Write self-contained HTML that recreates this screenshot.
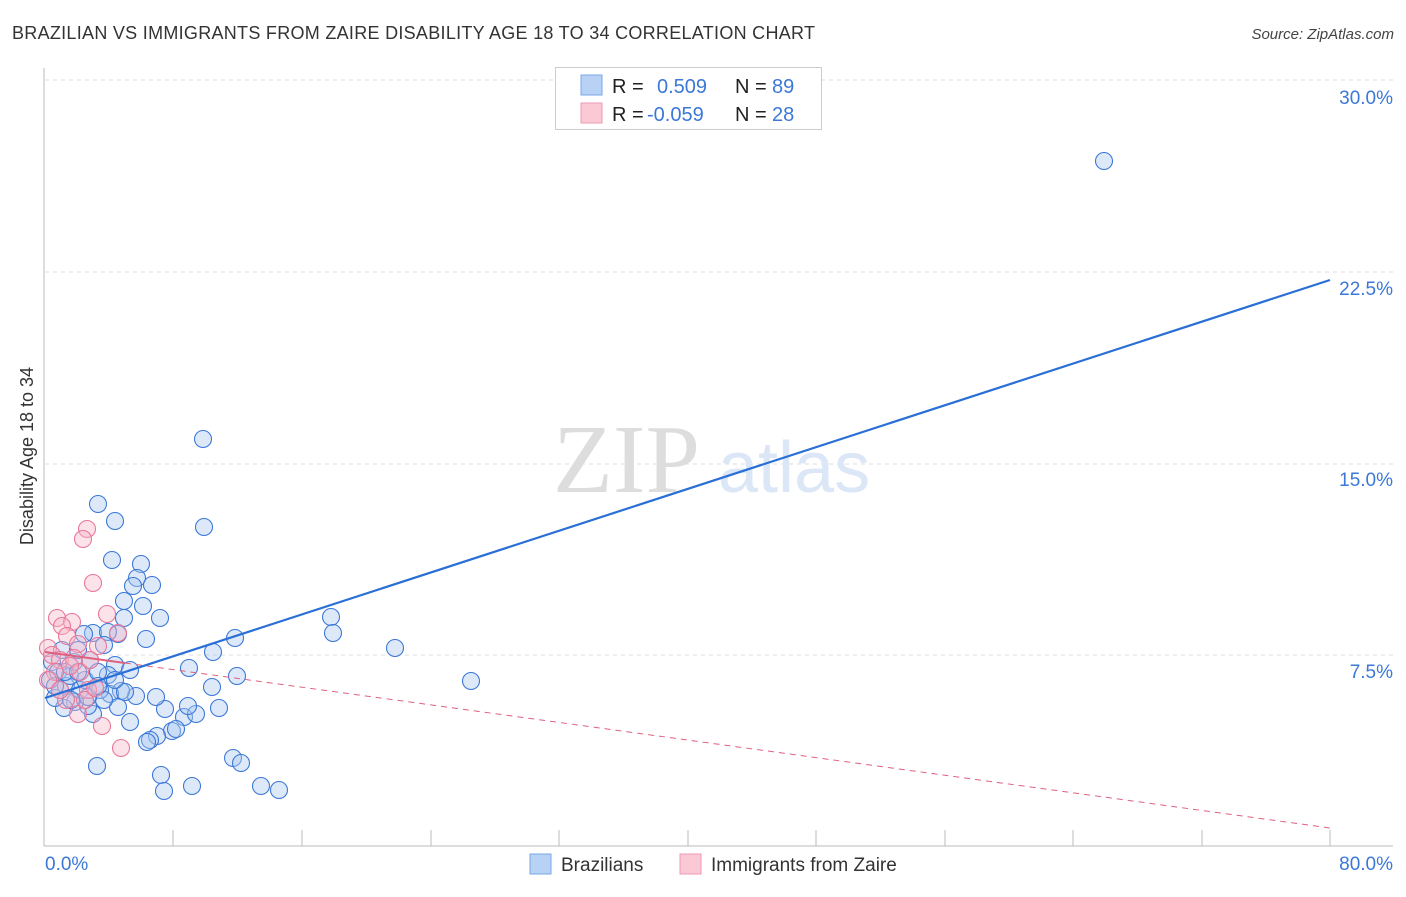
<!DOCTYPE html>
<html><head><meta charset="utf-8"><style>
body{margin:0;background:#fff;font-family:"Liberation Sans",sans-serif;}
</style></head><body>
<svg width="1406" height="892" xmlns="http://www.w3.org/2000/svg" font-family="Liberation Sans, sans-serif">
<text x="12" y="39" font-size="18" fill="#333" textLength="803">BRAZILIAN VS IMMIGRANTS FROM ZAIRE DISABILITY AGE 18 TO 34 CORRELATION CHART</text>
<text x="1394" y="39" font-size="15" fill="#444" font-style="italic" text-anchor="end">Source: ZipAtlas.com</text>
<g stroke="#ddd" stroke-dasharray="4,4" stroke-width="1">
<line x1="45" y1="80" x2="1393" y2="80"/><line x1="45" y1="272" x2="1393" y2="272"/>
<line x1="45" y1="464" x2="1393" y2="464"/><line x1="45" y1="655" x2="1393" y2="655"/>
</g>
<line x1="44" y1="68" x2="44" y2="846" stroke="#bbb"/>
<line x1="44" y1="846" x2="1393" y2="846" stroke="#bbb"/>
<g stroke="#bbb"><line x1="173" y1="830" x2="173" y2="846"/><line x1="302" y1="830" x2="302" y2="846"/><line x1="431" y1="830" x2="431" y2="846"/><line x1="559" y1="830" x2="559" y2="846"/><line x1="688" y1="830" x2="688" y2="846"/><line x1="816" y1="830" x2="816" y2="846"/><line x1="945" y1="830" x2="945" y2="846"/><line x1="1073" y1="830" x2="1073" y2="846"/><line x1="1202" y1="830" x2="1202" y2="846"/><line x1="1330" y1="830" x2="1330" y2="846"/></g>
<g font-size="19" fill="#3b78d8" text-anchor="end">
<text x="1393" y="104">30.0%</text><text x="1393" y="295">22.5%</text><text x="1393" y="486">15.0%</text><text x="1393" y="678">7.5%</text>
<text x="1393" y="870">80.0%</text></g>
<text x="45" y="870" font-size="19" fill="#3b78d8">0.0%</text>
<text transform="translate(33,456) rotate(-90)" font-size="18" fill="#333" text-anchor="middle">Disability Age 18 to 34</text>
<text x="553" y="492" font-size="98" fill="#ddd" font-family="Liberation Serif, serif">ZIP</text>
<text x="718" y="492" font-size="72" fill="#dbe7f7">atlas</text>
<g fill="#a9c8f0" fill-opacity="0.4" stroke="#3b78d8" stroke-width="1.1">
<circle cx="1104" cy="161" r="8.5"/><circle cx="203" cy="439" r="8.5"/><circle cx="98" cy="504" r="8.5"/><circle cx="204" cy="527" r="8.5"/><circle cx="115" cy="521" r="8.5"/><circle cx="112" cy="560" r="8.5"/><circle cx="141" cy="564" r="8.5"/><circle cx="137" cy="578" r="8.5"/><circle cx="133" cy="586" r="8.5"/><circle cx="152" cy="585" r="8.5"/><circle cx="124" cy="601" r="8.5"/><circle cx="143" cy="606" r="8.5"/><circle cx="160" cy="618" r="8.5"/><circle cx="124" cy="618" r="8.5"/><circle cx="331" cy="617" r="8.5"/><circle cx="333" cy="633" r="8.5"/><circle cx="395" cy="648" r="8.5"/><circle cx="471" cy="681" r="8.5"/><circle cx="235" cy="638" r="8.5"/><circle cx="146" cy="639" r="8.5"/><circle cx="118" cy="634" r="8.5"/><circle cx="93" cy="633" r="8.5"/><circle cx="84" cy="634" r="8.5"/><circle cx="108" cy="632" r="8.5"/><circle cx="104" cy="645" r="8.5"/><circle cx="115" cy="665" r="8.5"/><circle cx="90" cy="660" r="8.5"/><circle cx="213" cy="652" r="8.5"/><circle cx="189" cy="668" r="8.5"/><circle cx="237" cy="676" r="8.5"/><circle cx="212" cy="687" r="8.5"/><circle cx="219" cy="708" r="8.5"/><circle cx="184" cy="717" r="8.5"/><circle cx="196" cy="714" r="8.5"/><circle cx="188" cy="706" r="8.5"/><circle cx="165" cy="709" r="8.5"/><circle cx="156" cy="697" r="8.5"/><circle cx="136" cy="696" r="8.5"/><circle cx="121" cy="691" r="8.5"/><circle cx="110" cy="694" r="8.5"/><circle cx="100" cy="690" r="8.5"/><circle cx="130" cy="722" r="8.5"/><circle cx="118" cy="707" r="8.5"/><circle cx="172" cy="731" r="8.5"/><circle cx="157" cy="736" r="8.5"/><circle cx="150" cy="740" r="8.5"/><circle cx="147" cy="742" r="8.5"/><circle cx="176" cy="729" r="8.5"/><circle cx="233" cy="758" r="8.5"/><circle cx="241" cy="763" r="8.5"/><circle cx="161" cy="775" r="8.5"/><circle cx="164" cy="791" r="8.5"/><circle cx="192" cy="786" r="8.5"/><circle cx="261" cy="786" r="8.5"/><circle cx="279" cy="790" r="8.5"/><circle cx="97" cy="766" r="8.5"/><circle cx="93" cy="714" r="8.5"/><circle cx="88" cy="706" r="8.5"/><circle cx="75" cy="702" r="8.5"/><circle cx="64" cy="708" r="8.5"/><circle cx="60" cy="690" r="8.5"/><circle cx="55" cy="698" r="8.5"/><circle cx="50" cy="680" r="8.5"/><circle cx="52" cy="662" r="8.5"/><circle cx="58" cy="672" r="8.5"/><circle cx="66" cy="686" r="8.5"/><circle cx="70" cy="676" r="8.5"/><circle cx="80" cy="690" r="8.5"/><circle cx="85" cy="680" r="8.5"/><circle cx="74" cy="662" r="8.5"/><circle cx="62" cy="650" r="8.5"/><circle cx="104" cy="700" r="8.5"/><circle cx="108" cy="675" r="8.5"/><circle cx="98" cy="672" r="8.5"/><circle cx="125" cy="692" r="8.5"/><circle cx="78" cy="650" r="8.5"/><circle cx="88" cy="697" r="8.5"/><circle cx="71" cy="700" r="8.5"/><circle cx="55" cy="686" r="8.5"/><circle cx="65" cy="672" r="8.5"/><circle cx="78" cy="672" r="8.5"/><circle cx="98" cy="686" r="8.5"/><circle cx="130" cy="670" r="8.5"/><circle cx="115" cy="680" r="8.5"/>
</g>
<g fill="#f7b6c8" fill-opacity="0.4" stroke="#e8789a" stroke-width="1.1">
<circle cx="87" cy="529" r="8.5"/><circle cx="83" cy="539" r="8.5"/><circle cx="93" cy="583" r="8.5"/><circle cx="107" cy="614" r="8.5"/><circle cx="57" cy="618" r="8.5"/><circle cx="72" cy="622" r="8.5"/><circle cx="62" cy="626" r="8.5"/><circle cx="67" cy="636" r="8.5"/><circle cx="118" cy="633" r="8.5"/><circle cx="98" cy="646" r="8.5"/><circle cx="78" cy="644" r="8.5"/><circle cx="48" cy="648" r="8.5"/><circle cx="52" cy="655" r="8.5"/><circle cx="60" cy="660" r="8.5"/><circle cx="74" cy="658" r="8.5"/><circle cx="80" cy="672" r="8.5"/><circle cx="70" cy="666" r="8.5"/><circle cx="55" cy="672" r="8.5"/><circle cx="48" cy="680" r="8.5"/><circle cx="90" cy="660" r="8.5"/><circle cx="88" cy="690" r="8.5"/><circle cx="102" cy="726" r="8.5"/><circle cx="121" cy="748" r="8.5"/><circle cx="78" cy="714" r="8.5"/><circle cx="66" cy="700" r="8.5"/><circle cx="60" cy="690" r="8.5"/><circle cx="85" cy="700" r="8.5"/><circle cx="95" cy="688" r="8.5"/>
</g>
<line x1="45" y1="652" x2="125" y2="663" stroke="#e0607f" stroke-width="2"/>
<line x1="125" y1="663" x2="1330" y2="828" stroke="#e0607f" stroke-width="1" stroke-dasharray="6,5"/>
<line x1="45" y1="698" x2="1330" y2="280" stroke="#2a6fd6" stroke-width="2.2"/>
<rect x="555.5" y="67.5" width="266" height="62" fill="#fff" stroke="#ccc"/>
<rect x="581" y="75" width="21" height="20" fill="#b8d2f5" stroke="#7aa7e8"/>
<rect x="581" y="103" width="21" height="20" fill="#fbc8d6" stroke="#ee98b2"/>
<g font-size="20" fill="#222"><text x="612" y="93">R =</text><text x="612" y="121">R =</text><text x="735" y="93">N =</text><text x="735" y="121">N =</text></g>
<g font-size="20" fill="#3b78d8"><text x="657" y="93">0.509</text><text x="647" y="121">-0.059</text><text x="772" y="93">89</text><text x="772" y="121">28</text></g>
<rect x="530" y="854" width="21" height="20" fill="#b8d2f5" stroke="#7aa7e8"/>
<text x="561" y="871" font-size="19" fill="#333">Brazilians</text>
<rect x="680" y="854" width="21" height="20" fill="#fbc8d6" stroke="#ee98b2"/>
<text x="711" y="871" font-size="19" fill="#333">Immigrants from Zaire</text>
</svg>
</body></html>
